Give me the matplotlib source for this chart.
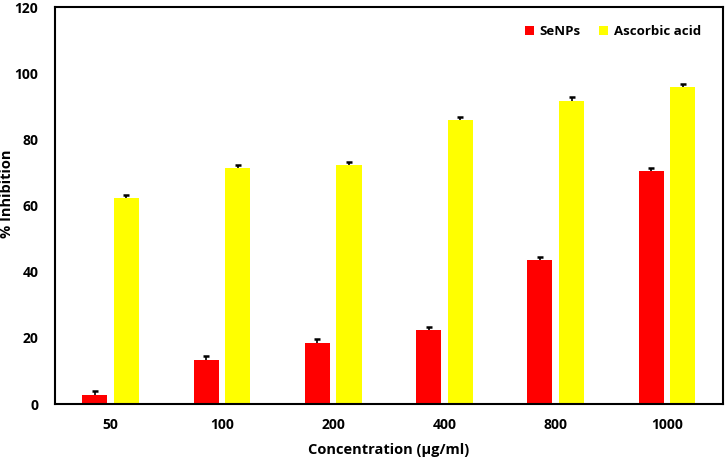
import matplotlib
matplotlib.use("Agg")
import matplotlib.pyplot as plt
import numpy as np

categories = ["50", "100", "200", "400", "800", "1000"]
senps = [2.7, 13.3, 18.5, 22.4, 43.5, 70.4]
senps_err = [1.2, 1.2, 1.2, 1.0, 1.0, 1.0]
ascorbic = [62.2, 71.2, 72.2, 85.9, 91.7, 95.8]
ascorbic_err = [1.0, 1.0, 1.0, 0.8, 1.0, 0.8]

plt.rcParams['font.family'] = ['Open Sans', 'DejaVu Sans']
plt.rcParams['font.weight'] = 'bold'

fig = plt.figure(figsize=(7.25, 4.59), dpi=100)
ax = fig.add_axes([0.0759, 0.1198, 0.9209, 0.8649])

x = np.arange(len(categories))
w = 0.225
off = 0.142


def up_err(xs, ys, errs):
    res = ax.errorbar(xs, ys, yerr=[np.zeros(len(ys)), errs], fmt='none',
                      ecolor='black', elinewidth=1.2, capsize=2.5,
                      capthick=1.8, zorder=3)
    for c in res[1]:
        yd = np.asarray(c.get_ydata())
        if np.allclose(yd, ys):
            c.set_visible(False)


ax.bar(x - off, senps, w, color='#FF0000', label='SeNPs')
ax.bar(x + off, ascorbic, w, color='#FFFF00', label='Ascorbic acid')
up_err(x - off, np.array(senps), np.array(senps_err))
up_err(x + off, np.array(ascorbic), np.array(ascorbic_err))

ax.set_xlim(-0.5, len(categories) - 0.5)
ax.set_ylim(0, 120)
ax.set_yticks(range(0, 121, 20))
ax.set_xticks(x)
ax.set_xticklabels(categories)
ax.tick_params(axis='both', length=0, labelsize=10, pad=10)
ax.tick_params(axis='y', pad=12)
for lab in ax.get_xticklabels() + ax.get_yticklabels():
    lab.set_fontweight('bold')
for s in ax.spines.values():
    s.set_linewidth(1.5)
    s.set_color('black')

ax.set_xlabel('Concentration (µg/ml)', fontsize=10.5, fontweight='bold', labelpad=8)
ax.set_ylabel('% Inhibition', fontsize=10.5, fontweight='bold')
ax.yaxis.set_label_coords(-0.062, 0.53)

leg = ax.legend(loc='upper right', frameon=False, ncol=2, fontsize=9.5,
                handlelength=0.7, handleheight=0.7, handletextpad=0.4,
                columnspacing=1.4, bbox_to_anchor=(0.985, 0.985))
for t in leg.get_texts():
    t.set_fontweight('bold')

fig.savefig('out.png', dpi=100)
